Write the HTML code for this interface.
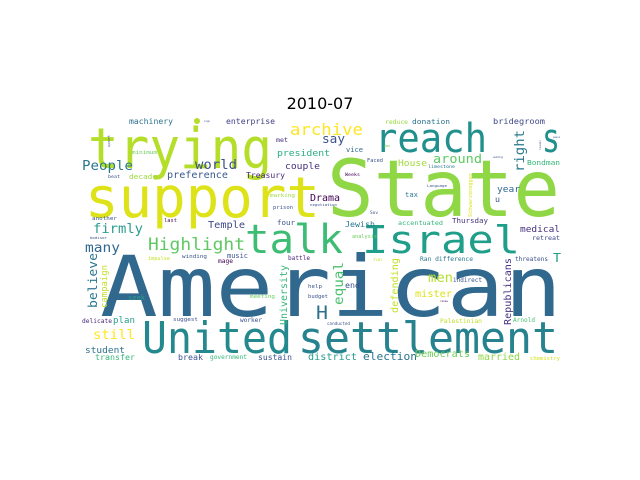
<!DOCTYPE html>
<html><head><meta charset="utf-8"><style>
html,body{margin:0;padding:0;background:#fff;}
svg{display:block;font-family:"DejaVu Sans Mono","Liberation Mono",monospace;}
</style></head><body>
<svg id="c" width="640" height="480" viewBox="0 0 640 480" xmlns="http://www.w3.org/2000/svg">
<rect width="640" height="480" fill="#fff"/>
<text x="320" y="109" font-size="16" text-anchor="middle" fill="#000" style="font-family:'DejaVu Sans',sans-serif">2010-07</text>
<circle cx="197" cy="121" r="3" fill="#b5de2b"/>
<g id="words"></g>
</svg>
<script>
// horizontal words: text, left x, baseline y, ink width, color
const words = ["American","State","support","trying","reach","s","talk","Israel","United","settlement",
"archive","say","met","president","vice","couple","world","People","preference","Treasury","decade","beat","machinery","enterprise","minimum","around","House","donation","reduce","bridegroom","Bondman","year","tax","Drama","marking","prison","Faced","Weeks","limestone","another","last","Temple","four","Jewish","accentuated","Thursday","medical","firmly","analysis","Sov","u","sign","Language","negotiation","wedding",
"Highlight","many","impulse","winding","music","mage","battle","seek","meeting","help","budget","H","end","run","Ran difference","threatens","T","men","indirect","mister","renew","Palestinian","Arnold","conducted","delicate","plan","suggest","worker","still","student","transfer","break","government","sustain","district","election","Democrats","married","chemistry","bodisor","retreat","dan","peace"];
const wx = [100,327,85,88,375,542,245,362,142,298,
290,322,276,277,346,285,195,82,167,246,129,108,129,226,132,433,398,412,385,493,527,497,405,310,270,273,367,345,428,92,164,208,277,345,398,452,520,93,352,370,495,204,427,310,493,
148,85,148,182,227,218,288,128,250,308,308,316,345,373,420,515,553,428,453,415,440,440,513,327,82,113,173,240,93,85,95,178,210,258,308,363,415,478,530,90,532,384,553];
const wy = [316,216,217,168,152,152,253,253,353,353,
135,143,142,156,152,169,169,170,178,178,179,178,124,124,154,163,166,124,124,124,165,192,197,201,197,209,162,176,168,220,222,228,225,227,225,223,232,233,238,214,202,122,187,206,158,
250,252,260,258,258,263,260,300,298,288,298,319,288,261,261,261,262,282,282,297,302,323,322,325,323,323,321,322,339,353,360,360,359,360,360,360,357,360,360,239,240,147,138];
const ww = [462,233,235,184,112,18,98,158,150,260,
73,23,12,53,17,35,42,51,61,39,28,12,44,49,25,49,29,38,23,52,33,23,13,30,25,20,16,15,27,25,13,37,18,30,45,36,40,50,25,8,5,6,20,27,10,
97,35,22,25,21,15,22,17,25,14,20,12,15,9,53,33,8,25,29,37,8,42,22,23,30,22,25,22,42,40,40,25,37,34,49,54,55,42,30,17,28,6,7];
const wsBig = [84,78,56,56,40,40,40,38,44,44];
const wc = ["#31688e","#8fd744","#dde318","#b5de2b","#21908d","#21908d","#3dbc74","#1f9e89","#23898e","#26828e",
"#fde725","#3b528b","#472d7b","#29af7f","#31688e","#472d7b","#3b528b","#2a788e","#38598c","#482878","#9bd93c","#3b528b","#2c728e","#433e85","#6ccd5a","#5ec962","#a0da39","#2c728e","#9bd93c","#3e4989","#35b779","#31688e","#2a788e","#440154","#a0da39","#3b528b","#3b528b","#440154","#2a788e","#3b528b","#440154","#3e4989","#3b528b","#2a788e","#35b779","#46327e","#46327e","#2a9d8f","#6ccd5a","#3b528b","#3b528b","#3b528b","#3b528b","#3b528b","#3b528b",
"#5ec962","#31688e","#c2df23","#3b528b","#3b528b","#440154","#482878","#2a9d8f","#6ccd5a","#3b528b","#3b528b","#2c728e","#3b528b","#c2df23","#2a788e","#3b528b","#1f9e89","#b5de2b","#3b528b","#dde318","#440154","#c2df23","#4ac16d","#3b528b","#482878","#2a9d8f","#3b528b","#3b528b","#fde725","#2c728e","#35b779","#3b528b","#35b779","#3b528b","#2a9d8f","#2c728e","#6ccd5a","#8fd744","#d2e21b","#3b528b","#3e4989","#6ccd5a","#3b528b"];
// vertical words: text, right x, top y, bottom y, color
const vWords = ["right","believe","campaign","University","equal","defending","Republicans","Schwarzenegger","upset","leader"];
const vx = [524,97,107,287,343,398,511,472,110,541];
const vTop = [130,253,265,265,262,258,258,173,135,140];
const vBot = [172,308,308,325,305,313,325,217,147,150];
const vc = ["#2a788e","#2a788e","#c2df23","#35b779","#4ac16d","#c2df23","#46327e","#dde318","#3b528b","#3b528b"];
const NS="http://www.w3.org/2000/svg";
const g=document.getElementById('words');
for(let i=0;i<words.length;i++){
  const n=words[i].length;
  const fs = i<wsBig.length ? wsBig[i] : ww[i]/(n*0.64);
  const t=document.createElementNS(NS,'text');
  
  
  t.setAttribute('x',wx[i]);t.setAttribute('y',wy[i]);
  t.setAttribute('font-size',fs.toFixed(1));t.setAttribute('fill',wc[i]);
  t.setAttribute('textLength',ww[i]);t.setAttribute('lengthAdjust','spacingAndGlyphs');
  t.textContent=words[i];g.appendChild(t);
}
for(let i=0;i<vWords.length;i++){
  const len=vBot[i]-vTop[i], n=vWords[i].length;
  const t=document.createElementNS(NS,'text');
  
  
  t.setAttribute('transform','translate('+vx[i]+','+vBot[i]+') rotate(-90)');
  t.setAttribute('font-size',(len/(n*0.64)).toFixed(1));t.setAttribute('fill',vc[i]);
  t.setAttribute('textLength',len);t.setAttribute('lengthAdjust','spacingAndGlyphs');
  t.textContent=vWords[i];g.appendChild(t);
}
</script>
</body></html>
